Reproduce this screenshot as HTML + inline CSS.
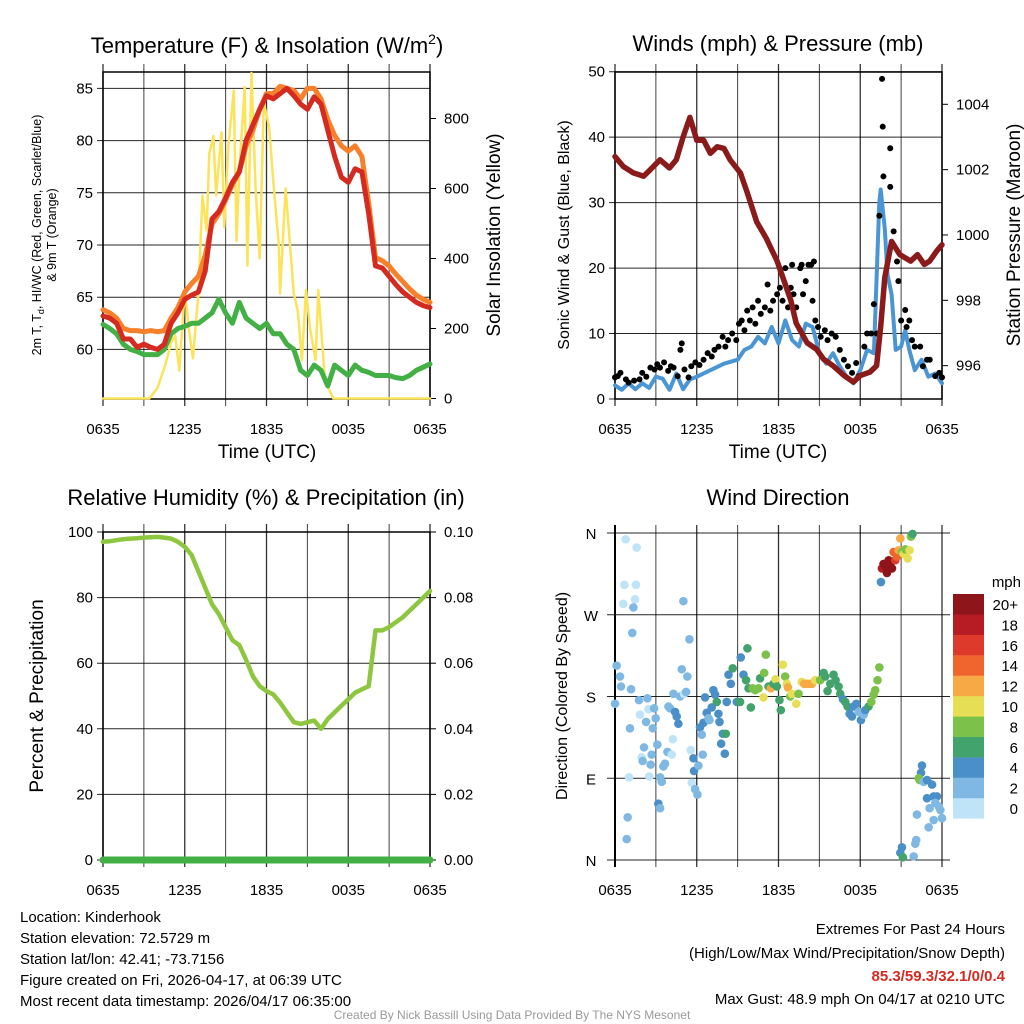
<!DOCTYPE html>
<html><head><meta charset="utf-8"><style>
html,body{margin:0;padding:0;background:#fff;}
svg{display:block;font-family:"Liberation Sans",Arial,sans-serif;}
</style></head><body>
<svg id="chart" width="1024" height="1024" viewBox="0 0 1024 1024" xmlns="http://www.w3.org/2000/svg">
<rect width="1024" height="1024" fill="#fff"/>
<g id="g1"></g>
<g id="g2"></g>
<g id="g3"></g>
<g id="g4"></g>
<text x="267" y="53" font-size="22" text-anchor="middle">Temperature (F) &amp; Insolation (W/m<tspan dy="-9" font-size="14">2</tspan><tspan dy="9">)</tspan></text>
<text x="778" y="51" font-size="22" text-anchor="middle">Winds (mph) &amp; Pressure (mb)</text>
<text x="266" y="505" font-size="22" text-anchor="middle">Relative Humidity (%) &amp; Precipitation (in)</text>
<text x="778" y="505" font-size="22" text-anchor="middle">Wind Direction</text>
<text x="267" y="458" font-size="19" text-anchor="middle">Time (UTC)</text>
<text x="778" y="458" font-size="19" text-anchor="middle">Time (UTC)</text>
<text transform="translate(41,235) rotate(-90)" font-size="12.5" text-anchor="middle">2m T, T<tspan font-size="9" dy="3">d</tspan><tspan dy="-3">, HI/WC (Red, Green, Scarlet/Blue)</tspan></text>
<text transform="translate(56,235) rotate(-90)" font-size="12.5" text-anchor="middle">&amp; 9m T (Orange)</text>
<text transform="translate(500,235) rotate(-90)" font-size="19" text-anchor="middle">Solar Insolation (Yellow)</text>
<text transform="translate(569,235) rotate(-90)" font-size="16" text-anchor="middle">Sonic Wind &amp; Gust (Blue, Black)</text>
<text transform="translate(1020,235) rotate(-90)" font-size="19" text-anchor="middle">Station Pressure (Maroon)</text>
<text transform="translate(43,696) rotate(-90)" font-size="19" text-anchor="middle">Percent &amp; Precipitation</text>
<text transform="translate(567,696) rotate(-90)" font-size="16" text-anchor="middle">Direction (Colored By Speed)</text>
<g font-size="15">
<text x="20" y="922">Location: Kinderhook</text>
<text x="20" y="943">Station elevation: 72.5729 m</text>
<text x="20" y="964">Station lat/lon: 42.41; -73.7156</text>
<text x="20" y="985">Figure created on Fri, 2026-04-17, at 06:39 UTC</text>
<text x="20" y="1006">Most recent data timestamp: 2026/04/17 06:35:00</text>
</g>
<g font-size="15" text-anchor="end">
<text x="1005" y="934">Extremes For Past 24 Hours</text>
<text x="1005" y="958">(High/Low/Max Wind/Precipitation/Snow Depth)</text>
<text x="1005" y="981" fill="#d42a20" font-weight="bold">85.3/59.3/32.1/0/0.4</text>
<text x="1005" y="1004">Max Gust: 48.9 mph On 04/17 at 0210 UTC</text>
</g>
<text x="512" y="1019" font-size="12" fill="#999" text-anchor="middle">Created By Nick Bassill Using Data Provided By The NYS Mesonet</text>
</svg>
<script>
const tHours=[0,0.5,1,1.5,2,2.5,3,3.5,4,4.5,5,5.5,6,6.5,7,7.5,8,8.5,9,9.5,10,10.5,11,11.5,12,12.5,13,13.5,14,14.5,15,15.5,16,16.5,17,17.5,18,18.5,19,19.5,20,20.5,21,21.5,22,22.5,23,23.5,24];
const tempRed=[63.2,63,62.5,61,61,60.2,60.5,60.2,60,60.5,62.5,63.5,64.8,65.2,65.5,67.5,72.5,73.2,74.5,76,77,80,81.5,83,84.3,84,84.5,85,84.3,83.5,83,84.2,83.5,81,78.5,76.5,76,77.3,77,73,68,67.8,67,66.2,65.5,65,64.5,64.2,64];
const temp9m=[63.8,63.5,63,62,61.8,61.8,61.7,61.8,61.7,61.8,63,64,65.5,66.3,67,69,72,73,74.3,75.8,77,79.5,81,83,84.5,84.5,85.2,85,84.8,84,85,85,84,82,80.5,79.5,79,79.5,78.5,74,68.8,68.5,68,67.2,66.5,65.8,65.2,64.8,64.5];
const dewpt=[62.4,62,61.5,60.5,60,59.8,59.5,59.5,59.5,60,61.5,62,62.2,62.5,62.5,63,63.5,64.8,63.5,62.5,64.5,63,62.5,62,62.5,61.5,61.5,60.5,60,58,57.5,58.5,58,56.5,58.5,58,57.5,58.5,58,57.8,57.5,57.5,57.5,57.3,57.2,57.5,58,58.3,58.6];
const solarHours=[0,3.4,4.0,4.6,5.0,5.3,5.6,6.0,6.3,6.6,7.0,7.3,7.6,7.8,8.1,8.3,8.7,8.9,9.2,9.6,9.8,10.0,10.4,10.6,10.9,11.2,11.5,11.8,12.2,12.5,12.9,13.0,13.4,13.7,14.0,14.3,14.6,14.9,15.2,15.6,15.8,16.1,16.3,16.9,24];
const solarVals=[0,0,30,100,160,180,80,310,200,115,300,580,480,700,750,580,760,490,720,880,450,650,890,380,930,600,400,845,775,620,440,300,600,450,300,250,110,310,200,110,310,150,50,0,0];
const pressHours=[0,0.6,1.35,2.1,2.6,3.3,4.0,4.5,5.0,5.5,6.0,6.5,7.0,7.5,8.0,8.45,9.2,9.7,10.4,11.1,11.9,12.4,12.9,13.3,14.1,14.8,15.3,16.0,16.8,17.5,18.0,18.7,19.2,19.5,19.8,20.3,20.9,21.7,22.2,22.7,23.1,23.6,24];
const pressVals=[1002.4,1002.1,1001.9,1001.8,1002.0,1002.3,1002.05,1002.3,1003.0,1003.6,1002.9,1002.9,1002.5,1002.7,1002.65,1002.3,1001.9,1001.3,1000.4,999.9,999.2,998.6,998.0,997.3,996.7,996.5,996.2,996.0,995.7,995.5,995.7,995.8,996.0,997.2,998.7,999.8,999.4,999.2,999.4,999.1,999.2,999.5,999.7];
const windHours=[0,0.5,1,1.5,2,2.5,3,3.5,4,4.5,5,5.5,6,7,8,9,9.5,10,10.5,11,11.5,12,12.5,13,13.5,14,14.5,15,15.5,16,16.5,17,17.5,18,18.5,19,19.4,19.5,19.8,20,20.3,20.6,21,21.3,21.6,22,22.5,23,23.5,24];
const windVals=[2.1,1.4,2.4,1.5,2.4,1.7,3.4,3.1,1.4,3.9,1.5,3,3.4,4.4,5.4,6,7.5,8,9.5,8.5,11,8.5,12,9,8,11.5,11,7,5.4,7,5,3.4,2.4,4.4,7.5,7,30,32,26,19,16,7.5,8,10.5,7.5,4.4,6,3.4,3.9,2.4];
const gustHours=[0,0.2,0.4,0.8,1,1.4,1.8,2,2.3,2.6,2.9,3.1,3.3,3.6,3.9,4.1,4.3,4.6,4.8,4.9,5.1,5.4,5.6,5.9,6.2,6.5,6.8,7.1,7.3,7.6,7.9,8.1,8.3,8.6,8.9,9.1,9.3,9.5,9.7,9.9,10.1,10.3,10.5,10.7,11,11.2,11.4,11.6,11.9,12.1,12.3,12.5,12.7,12.9,13.0,13.1,13.3,13.6,13.7,13.8,14.0,14.2,14.4,14.5,14.6,14.7,14.9,15.1,15.4,15.6,15.9,16.2,16.5,16.8,17.1,17.4,17.7,17.9,18.3,18.5,18.8,19,19.2,19.4,19.6,19.65,19.7,20.2,20.2,20.45,20.7,20.8,21.0,21.3,21.4,21.6,21.8,22,22.4,22.6,22.9,23.1,23.5,23.8,24];
const gustVals=[3.3,3.5,4,3,2.5,2.8,3,4,3.4,4.8,4.5,5.3,4.8,5.6,4.3,5,4.8,3.5,7.5,8.5,4.5,3.3,5,5.6,5.2,6,7,6.5,7.5,8,9.5,8,9,10,9,11.5,12,10.5,13.5,12,14,11.5,15,13,14,17.5,13.5,15,16,17,15,20,14,17,20.5,16,14,20,20.5,16,18,20.5,20.5,15,21,12,11,9.5,10.5,9,10,9.5,7.5,6,5,4,5.5,3.5,8,10,10,14.5,10,28,48.9,41.6,34,38.3,32.4,25.6,21,18,12,13.6,11,12,9,8,8,5,6,6,3.5,4,3.3];
const rhVals=[97,97.2,97.5,97.8,98,98.1,98.3,98.4,98.5,98.3,98,97,95.5,93,88,83,78,75,71,67,65.5,61,56,53,51.5,50.5,48,45,42,41.5,42,42.5,40,43,45,47,49,51,52,53,70,70,71,72.5,74,76,78,80,82];
const precipVals=[0,0,0,0,0,0,0,0,0,0,0,0,0,0,0,0,0,0,0,0,0,0,0,0,0,0,0,0,0,0,0,0,0,0,0,0,0,0,0,0,0,0,0,0,0,0,0,0,0];
const dirHours=[0,0.12,0.37,0.44,0.78,1.59,0.69,1.54,1.47,0.61,1.35,1.27,1.18,1.76,2.38,1.84,2.28,2.45,2.87,2.99,2.77,1.10,2.13,1.96,2.03,2.69,2.62,3.11,1.03,2.52,0.93,0.86,3.31,3.43,3.55,3.67,3.85,4.16,4.24,3.18,3.31,3.92,4.04,4.41,4.53,4.65,4.29,4.78,5.07,5.22,5.02,5.46,4.90,5.31,5.56,5.76,5.80,6.12,6.44,5.63,5.88,6.05,6.24,6.37,6.49,6.73,6.86,7.10,6.93,6.61,7.22,7.35,7.47,7.67,7.59,7.79,7.91,8.06,8.13,8.20,8.33,8.50,8.64,8.94,9.23,9.18,9.43,9.62,9.72,9.80,9.97,10.11,10.29,10.53,10.65,10.90,11.07,10.95,11.27,11.44,11.63,11.78,11.88,12.07,12.17,12.32,12.49,12.61,12.69,12.86,12.98,13.30,13.47,13.71,13.89,14.08,14.28,14.45,14.69,15.06,15.31,15.43,15.60,15.80,16.04,16.19,16.41,16.53,16.73,16.90,17.07,17.22,17.39,17.51,17.71,17.88,18.05,18.25,18.37,18.61,18.81,18.98,19.10,19.27,19.40,19.52,19.59,19.71,19.84,19.96,20.08,20.20,20.33,20.45,20.57,20.69,20.82,20.94,21.06,21.18,21.31,21.48,21.62,21.72,21.84,22.53,22.46,22.36,22.29,22.65,22.90,23.27,22.90,23.09,23.39,23.63,23.51,23.76,23.88,24.0,23.39,23.02,22.16,22.11,22.04,21.92,21.06,20.94,21.13];
const dirDeg=[172,214,202,191,353,344,303,303,287,282,278,250,188,176,178,160,152,166,167,156,145,145,124,113,109,116,105,127,91,92,47,23,91,86,103,106,119,116,133,62,57,169,167,163,158,150,183,180,183,185,285,243,210,202,121,112,98,104,116,85,78,72,146,138,151,162,156,168,154,179,187,182,174,152,161,128,139,117,139,174,204,194,211,174,223,174,204,198,233,189,168,189,187,189,200,179,226,206,191,189,194,199,191,176,165,215,202,194,190,180,183,172,183,196,194,194,194,194,198,198,206,202,186,194,204,198,191,183,177,174,169,161,158,169,172,163,154,160,165,169,174,182,187,198,212,306,321,326,323,316,330,326,321,339,330,334,341,354,339,337,342,332,341,356,359,104,96,88,90,86,88,83,68,57,70,70,63,59,55,46,44,36,50,22,18,4,14,8,3];
const dirSpd=[2,2,2,2,1.5,1,1,1,1,1,3,2.5,2,2,2,1,2.5,1,3,2.5,2.5,2.5,2.5,1,2.5,2.5,2.5,2.5,1,1.5,2.5,2.5,2.5,2.5,3.5,3.5,2.5,1.5,1,4,2.5,2.5,2.5,4,4,4,2.5,2.5,1.5,2.5,2.5,2.5,2.5,2.5,1,4,4,2.5,2.5,1,2.5,2.5,4,2.5,4,4,3,4,2.5,4,4,4,6,4,4,4,4,4,6,4,4,4,6,4,4,6,4,6,6,6,6,8,8,8,6,10,8,8,6,12,6,10,6,6,6,10,8,10,12,8,10,10,8,10,12,12,12,12,10,8,6,6,6,6,6,6,6,6,4,6,6,4,4,4,4,2.5,4,2.5,4,6,8,8,8,8,8,4,18,20,20,20,20,20,20,14,16,14,12,12,8,10,8,10,10,8,6,4,4,8,8,2.5,4,4,4,2.5,4,4,2.5,2.5,2.5,2.5,2.5,2.5,2.5,2.5,2.5,2.5,4,4,6,6,8];
const spdBinLabels=["0","2","4","6","8","10","12","14","16","18","20+"];
const spdBinColors=["#bfe3f7","#7fb9e3","#4a8fc7","#43a36c","#7cc24a","#e6df55","#f6a944","#f0652d","#de3a2c","#b71c24","#8e1519"];

const NS="http://www.w3.org/2000/svg";
function make(parent,tag,attrs){const e=document.createElementNS(NS,tag);for(const k in attrs)e.setAttribute(k,attrs[k]);parent.appendChild(e);return e;}
function hx(h,L,R){return L+h/24*(R-L);}
const timeLabels=["0635","1235","1835","0035","0635"];

function frame(g,L,R,T,B,box){
  for(let i=0;i<=8;i++){const x=hx(i*3,L,R);
    const gl=make(g,'line',{x1:x,x2:x,y1:T-8,y2:B+7,stroke:'#000','stroke-width':i%2?1:1.3,opacity:i%2?0.75:0.8});
    
    
  }
  for(let i=0;i<5;i++){const t=make(g,'text',{x:hx(i*6,L,R),y:B+35,'font-size':15,'text-anchor':'middle'});t.textContent=timeLabels[i];
    
    
  }
  if(box){const r=make(g,'rect',{x:L,y:T,width:R-L,height:B-T,fill:'none',stroke:'#000','stroke-width':1.5});
    
    }
}
function hgrid(g,L,R,y,lab,rx){const l=make(g,'line',{x1:L-6,x2:R,y1:y,y2:y,stroke:'#000','stroke-width':1,opacity:0.85});
  
  
  const t=make(g,'text',{x:L-10,y:y+5,'font-size':15,'text-anchor':'end'});t.textContent=lab;
  
  }
function rlab(g,R,y,lab){make(g,'line',{x1:R,x2:R+6,y1:y,y2:y,stroke:'#000'});const t=make(g,'text',{x:R+14,y:y+5,'font-size':15});t.textContent=lab;
  
  }
function path(g,xs,ys,fx,fy,col,w,name){let d='';for(let i=0;i<xs.length;i++)d+=(i?'L':'M')+fx(xs[i]).toFixed(1)+','+fy(ys[i]).toFixed(1);
  const p=make(g,'path',{d:d,fill:'none',stroke:col,'stroke-width':w,'stroke-linejoin':'round','stroke-linecap':'round'});
  
  return p;}

// Panel 1
const g1=document.getElementById('g1');
const L1=103,R1=430,T1=72,B1=399;
const x1=h=>hx(h,L1,R1), yT=v=>399-(v-55.25)*10.44, yS=v=>398.5-v*0.35;
frame(g1,L1,R1,T1,B1,true);
for(let v=60;v<=85;v+=5)hgrid(g1,L1,R1,yT(v),String(v));
for(let v=0;v<=800;v+=200)rlab(g1,R1,yS(v),String(v));
path(g1,solarHours,solarVals,x1,yS,'#fbe35a',2.5,'solar-insolation-line');
path(g1,tHours,dewpt,x1,yT,'#43b045',5,'dewpoint-line');
path(g1,tHours,temp9m,x1,yT,'#f7802b',5,'temp-9m-line');
path(g1,tHours,tempRed,x1,yT,'#d42a20',5,'temp-2m-line');

// Panel 2
const g2=document.getElementById('g2');
const L2=615,R2=942,T2=72,B2=399;
const x2=h=>hx(h,L2,R2), yW=v=>399-v*6.546, yP=v=>104.3+(1004-v)*32.67;
frame(g2,L2,R2,T2,B2,true);
for(let v=0;v<=50;v+=10)hgrid(g2,L2,R2,yW(v),String(v));
for(let v=996;v<=1004;v+=2)rlab(g2,R2,yP(v),String(v));
path(g2,windHours,windVals,x2,yW,'#4a95d4',4,'sonic-wind-line');
for(let i=0;i<gustHours.length;i++){const c=make(g2,'circle',{cx:x2(gustHours[i]),cy:yW(gustVals[i]),r:3,fill:'#000'});
  
  }
path(g2,pressHours,pressVals,x2,yP,'#8b1a1a',5.5,'pressure-line');

// Panel 3
const g3=document.getElementById('g3');
const L3=103,R3=430,T3=532,B3=860;
const x3=h=>hx(h,L3,R3), yR=v=>860-v*3.28, yPr=v=>860-v*3280;
frame(g3,L3,R3,T3,B3,true);
for(let v=0;v<=100;v+=20)hgrid(g3,L3,R3,yR(v),String(v));
for(let v=0;v<=5;v++)rlab(g3,R3,yPr(v*0.02),(v*0.02).toFixed(2));
path(g3,tHours,rhVals,x3,yR,'#8dc63f',4.5,'humidity-line');
path(g3,tHours,precipVals,x3,yPr,'#43b045',7,'precipitation-line');

// Panel 4
const g4=document.getElementById('g4');
const L4=615,R4=942,T4=533,B4=860;
const x4=h=>hx(h,L4,R4), yD=d=>860-d*(327/360);
frame(g4,L4,R4,T4,B4,false);
make(g4,'line',{x1:L4,x2:L4,y1:T4-8,y2:B4+7,stroke:'#000','stroke-width':2});
const dirLabs=["N","E","S","W","N"];
for(let i=0;i<5;i++){const y=yD(i*90);const l=make(g4,'line',{x1:L4-8,x2:R4+8,y1:y,y2:y,stroke:'#000','stroke-width':1,opacity:0.85});
  
  
  const t=make(g4,'text',{x:591,y:y+6,'font-size':15,'text-anchor':'middle'});t.textContent=dirLabs[i];
  
  }
function binOf(s){return Math.min(10,Math.max(0,Math.floor(s/2)));}
for(let i=0;i<dirHours.length;i++){const c=make(g4,'circle',{cx:x4(dirHours[i]),cy:yD(dirDeg[i]),r:4.3,fill:spdBinColors[binOf(dirSpd[i])]});
  
  }
// colorbar
const cb=make(g4,'g',{});


const mt=make(cb,'text',{x:1021,y:587,'font-size':15,'text-anchor':'end'});mt.textContent='mph';


for(let i=0;i<11;i++){const top=594+(10-i)*20.4;
  const r=make(cb,'rect',{x:953,y:top,width:31,height:20.6,fill:spdBinColors[i]});
  
  
  const t=make(cb,'text',{x:1018,y:top+16,'font-size':15,'text-anchor':'end'});t.textContent=spdBinLabels[i];
  
  }
</script>
</body></html>
